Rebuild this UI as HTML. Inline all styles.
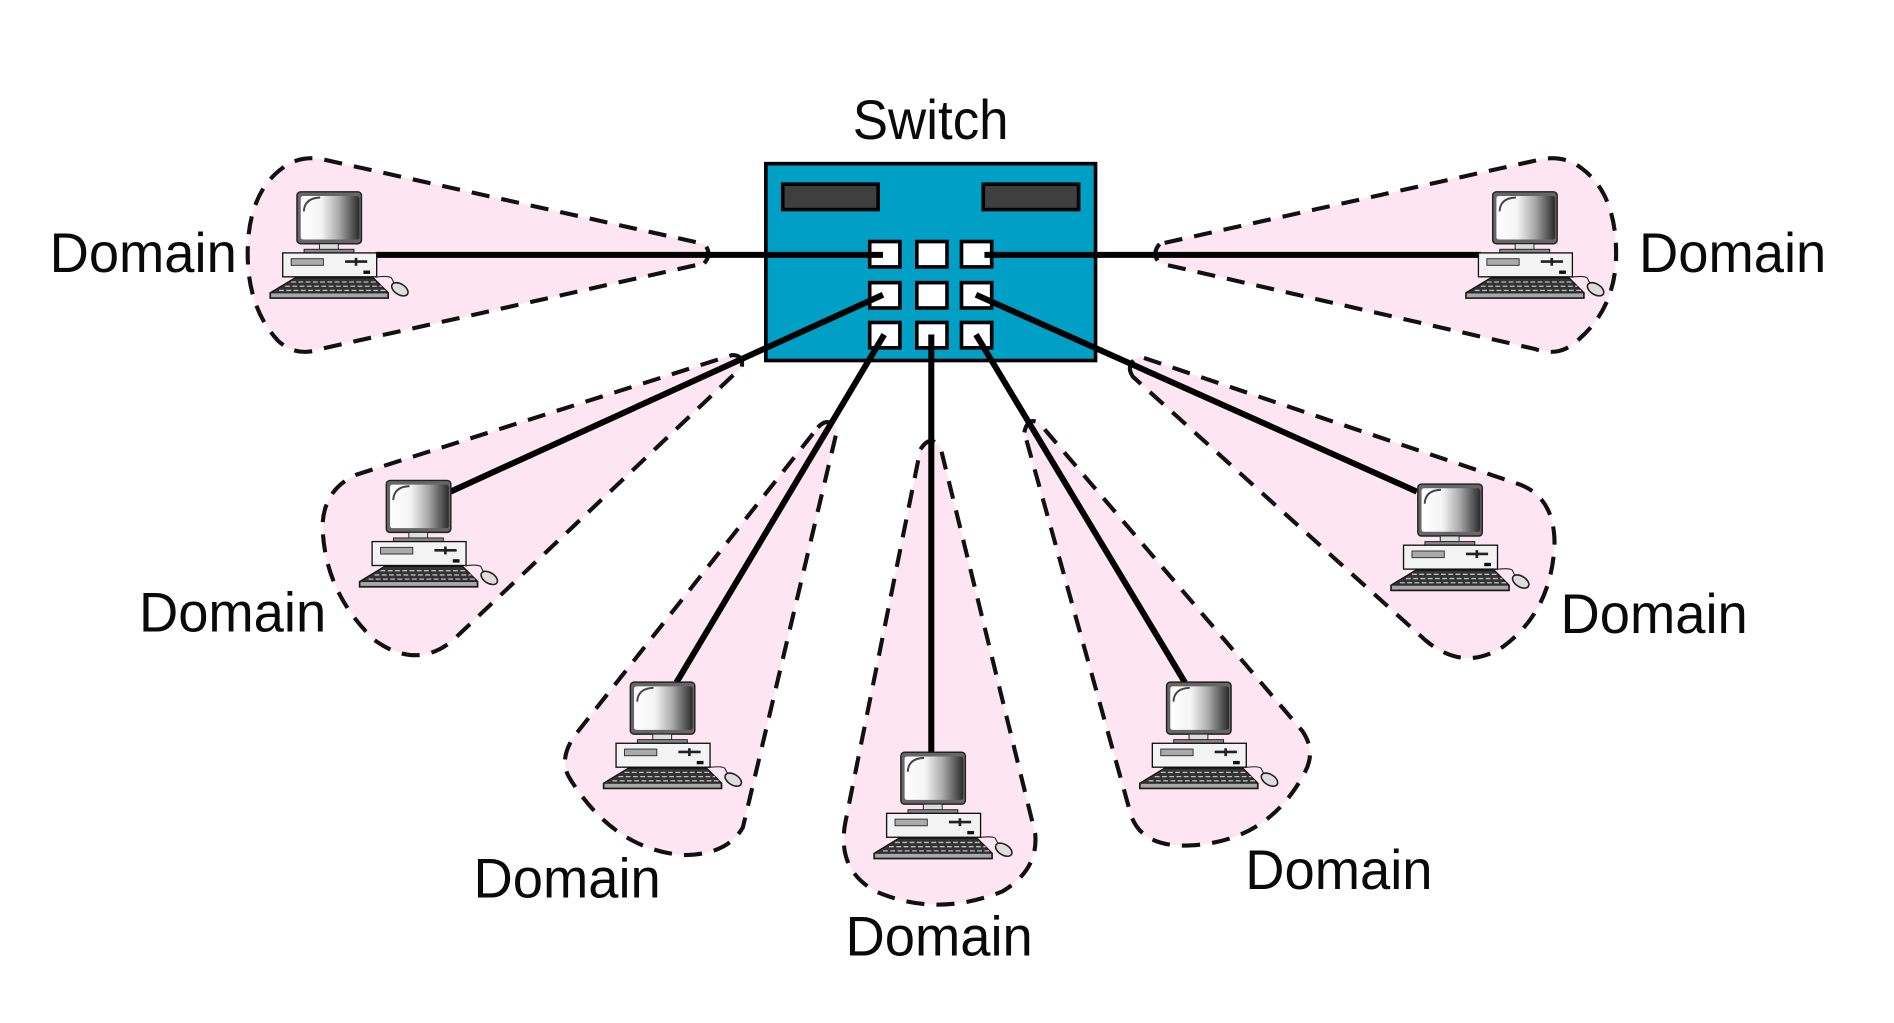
<!DOCTYPE html>
<html><head><meta charset="utf-8"><style>
html,body{margin:0;padding:0;background:#fff;width:1894px;height:1023px;overflow:hidden}
svg{display:block}
text{font-family:"Liberation Sans",sans-serif;font-size:46px;fill:#0a0a0a}
.d{fill:#fde6f2;stroke:#111;stroke-width:3.4;stroke-dasharray:15 10}
.w{stroke:#000;stroke-width:5;fill:none}
.p{fill:#fff;stroke:#000;stroke-width:3}
</style></head><body>
<svg width="1894" height="1023" viewBox="0 0 1568 847" xmlns="http://www.w3.org/2000/svg">
<defs>
<linearGradient id="g" x1="0" x2="1" y1="0" y2="0">
<stop offset="0" stop-color="#fff"/><stop offset=".35" stop-color="#f4f4f4"/><stop offset=".65" stop-color="#aaa"/><stop offset="1" stop-color="#2a2a2a"/>
</linearGradient>
<g id="pc">
<rect x=".8" y=".8" width="53.4" height="43" rx="3" fill="#666" stroke="#222" stroke-width="1.2"/>
<rect x="3.9" y="4.3" width="48.6" height="36" rx="2" fill="url(#g)"/>
<path d="M20 5.5 Q7 6 6.5 17" fill="none" stroke="#444" stroke-width="1.6"/>
<rect x="19.4" y="43.8" width="15.6" height="4.8" fill="#ddd" stroke="#222" stroke-width=".8"/>
<rect x="6.7" y="48.4" width="41.3" height="3" fill="#888" stroke="#222" stroke-width=".8"/>
<rect x="-11" y="51.4" width="77.8" height="19.8" fill="#f3f3f3" stroke="#111" stroke-width="1.1"/>
<rect x="-4" y="56.2" width="26.7" height="5.5" fill="#aaa" stroke="#333" stroke-width=".8"/>
<path d="M40.6 58.6H59" stroke="#222" stroke-width="2.2" fill="none"/>
<path d="M49.7 55.500V62" stroke="#222" stroke-width="2.2" fill="none"/>
<rect x="55.8" y="66" width="5.6" height="2.8" fill="#111"/>
<path d="M-.8 72H64L76.500 84.500V89H-21.500V84.500Z" fill="#333" stroke="#111" stroke-width="1"/>
<path d="M-4 75.500H67M-9 79H71M-14 82.500H74" stroke="#bbb" stroke-width="1.1" stroke-dasharray="4 2" fill="none"/>
<rect x="-21" y="84.500" width="97" height="4" fill="#a8a8a8" stroke="#222" stroke-width=".8"/>
<path d="M66 71.500Q76 70 79 72Q81 76 82 78" fill="none" stroke="#222" stroke-width=".9"/>
<ellipse cx="86" cy="81.500" rx="7.500" ry="4.400" transform="rotate(32 86 81.500)" fill="#ddd" stroke="#222" stroke-width="1.3"/>
</g>
</defs>
<rect width="1568" height="847" fill="#fff"/>

<path class="d" d="M583 218Q590 210 583 202L272 133Q250 127 234 139Q205 160 205 210Q205 255 230 282Q245 296 265 289Z"/>
<path class="d" d="M960 202Q953 210 960 218L1271 289Q1291 296 1306 282Q1338 255 1338 210Q1338 160 1309 139Q1293 127 1271 133Z"/>
<path class="d" d="M606 294Q616 294 614 304L375 530Q345 555 310 530Q268 490 267 435Q268 405 295 393Z"/>
<path class="d" d="M938 312Q931 302 943 295L1255 400Q1287 410 1287 450Q1285 505 1245 535Q1212 557 1180 530Z"/>
<path class="d" d="M677 354Q686 344 693 356L615 685Q602 708 565 708Q508 703 472 645Q462 630 475 610Z"/>
<path class="d" d="M762 372Q771 358 779 372L857 690Q860 720 830 738Q775 760 725 738Q692 720 700 680Z"/>
<path class="d" d="M848 358Q851 344 861 351L1078 605Q1090 622 1080 640Q1050 697 985 700Q942 702 935 670Z"/>

<rect x="634" y="135.500" width="273" height="163" fill="#00a0c6" stroke="#000" stroke-width="3"/>
<rect x="648" y="152.500" width="79" height="21" fill="#3f3f3f" stroke="#000" stroke-width="3"/>
<rect x="814" y="152.500" width="79" height="21" fill="#3f3f3f" stroke="#000" stroke-width="3"/>
<rect class="p" x="720" y="200" width="25" height="21"/><rect class="p" x="759" y="200" width="25" height="21"/><rect class="p" x="796" y="200" width="25" height="21"/>
<rect class="p" x="720" y="234" width="25" height="21"/><rect class="p" x="759" y="234" width="25" height="21"/><rect class="p" x="796" y="234" width="25" height="21"/>
<rect class="p" x="720" y="267" width="25" height="21"/><rect class="p" x="759" y="267" width="25" height="21"/><rect class="p" x="796" y="267" width="25" height="21"/>

<path class="w" d="M311 211H731"/>
<path class="w" d="M815 211H1226"/>
<path class="w" d="M731 244L373 407"/>
<path class="w" d="M808 244L1173 407"/>
<path class="w" d="M732 277L560 565"/>
<path class="w" d="M771 277V625"/>
<path class="w" d="M808 277L981 565"/>

<use href="#pc" x="245" y="158"/>
<use href="#pc" x="1235" y="158"/>
<use href="#pc" x="319" y="397"/>
<use href="#pc" x="1173" y="400"/>
<use href="#pc" x="521" y="564"/>
<use href="#pc" x="745" y="622"/>
<use href="#pc" x="965" y="564"/>

<text x="706" y="115" textLength="129" lengthAdjust="spacingAndGlyphs">Switch</text>
<text x="41" y="225" textLength="155" lengthAdjust="spacingAndGlyphs">Domain</text>
<text x="1357" y="225" textLength="155" lengthAdjust="spacingAndGlyphs">Domain</text>
<text x="115" y="523" textLength="155" lengthAdjust="spacingAndGlyphs">Domain</text>
<text x="1292" y="524" textLength="155" lengthAdjust="spacingAndGlyphs">Domain</text>
<text x="392" y="743" textLength="155" lengthAdjust="spacingAndGlyphs">Domain</text>
<text x="1031" y="736" textLength="155" lengthAdjust="spacingAndGlyphs">Domain</text>
<text x="700" y="791" textLength="155" lengthAdjust="spacingAndGlyphs">Domain</text>
</svg>
</body></html>
